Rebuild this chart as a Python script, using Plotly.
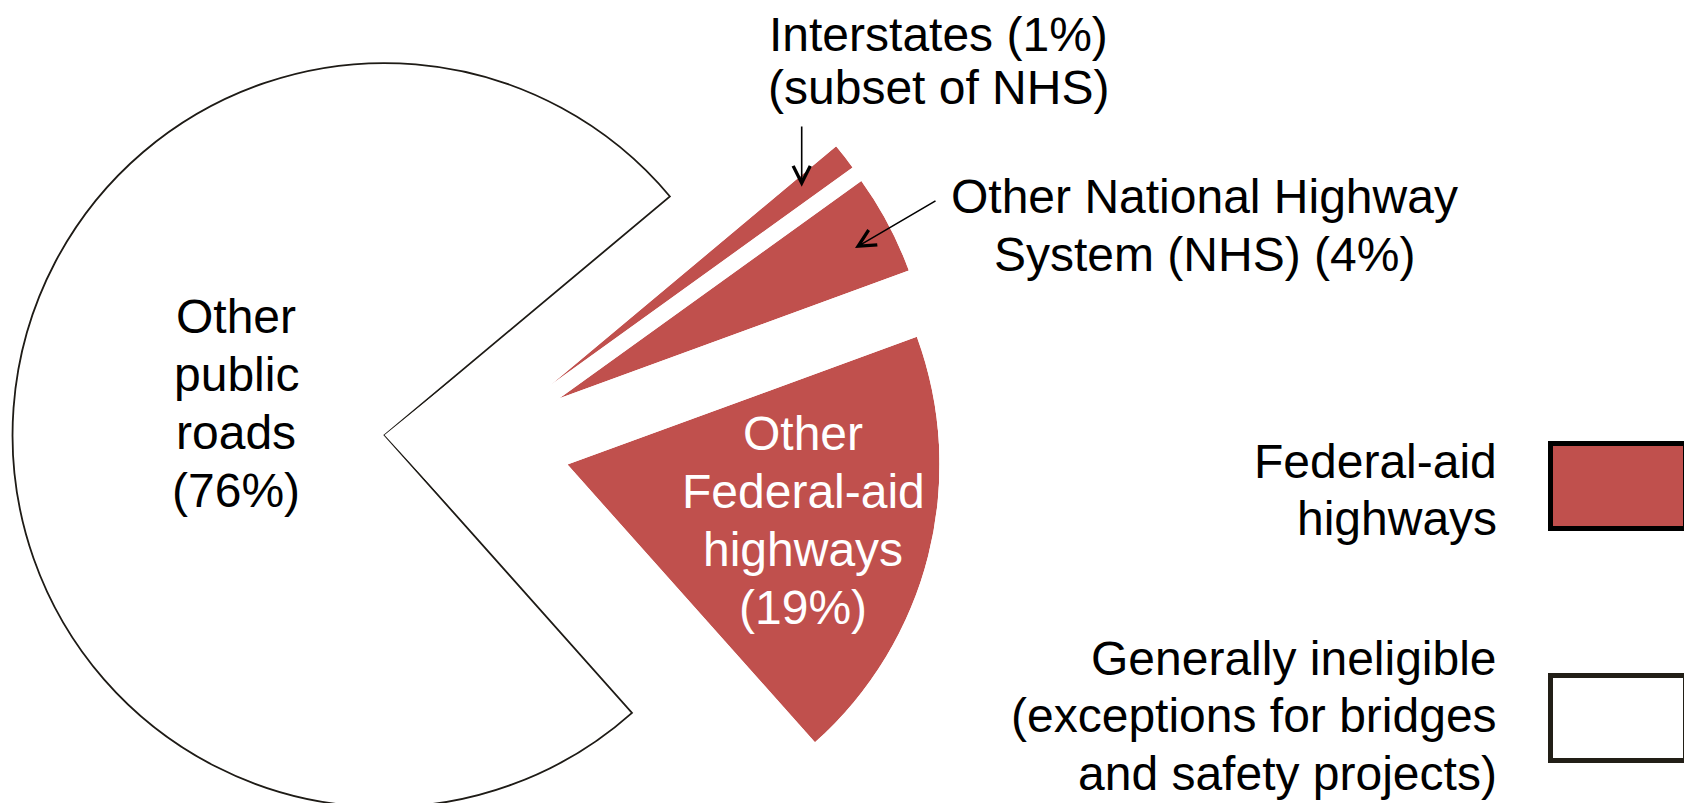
import math
import plotly.graph_objects as go

# ---------------- data ----------------
categories = ["Interstates", "Other National Highway System (NHS)",
              "Other Federal-aid highways", "Other public roads"]
shares = [1.15, 4.35, 19.0, 75.5]
pct_labels = ["1%", "4%", "19%", "76%"]   # printed labels
groups = ["Federal-aid highways", "Federal-aid highways",
          "Federal-aid highways", "Generally ineligible"]

legend_groups = ["Federal-aid highways", "Generally ineligible"]
legend_lines = [["Federal-aid", "highways"],
                ["Generally ineligible", "(exceptions for bridges", "and safety projects)"]]

label_lines = [
    ["Interstates (" + pct_labels[0] + ")", "(subset of NHS)"],
    ["Other National Highway", "System (NHS) (" + pct_labels[1] + ")"],
    ["Other", "Federal-aid", "highways", "(" + pct_labels[2] + ")"],
    ["Other", "public", "roads", "(" + pct_labels[3] + ")"],
]

# ---------------- style / layout ----------------
W, H = 1692, 803
OFF = 8                   # page body margin: figure is drawn 8px right/down
RED = "#C0504D"
group_fill = {"Federal-aid highways": RED, "Generally ineligible": "#FFFFFF"}
group_edge = {"Federal-aid highways": "#000000", "Generally ineligible": "#221F17"}
slice_line = ["rgba(0,0,0,0)", "rgba(0,0,0,0)", "rgba(0,0,0,0)", "#1E1B16"]
slice_line_w = [0, 0, 0, 1.8]
label_color = ["#000000", "#000000", "#FFFFFF", "#000000"]
FONT = "Liberation Sans, Arial, Helvetica, sans-serif"
FS = 48

# positions below are in screen pixels of the target picture
R = 372.0                 # pie radius (px)
CX, CY = 477.3, 441.9     # unexploded pie centre (px)
PULL = 0.25               # explosion as fraction of radius
START = 39.9              # angle (deg, math convention) where first slice starts, clockwise

# label placement: (x, first baseline, line spacing, anchor)
label_pos = [(938.3, 51.6, 52.4, "center"),
             (1204.0, 213.5, 58.0, "center"),
             (803.0, 450.0, 58.0, "center"),
             (236.5, 333.3, 58.0, "center")]
legend_pos = [(1497.0, 478.5, 57.0), (1497.0, 675.0, 57.6)]
legend_boxes = [(1550.5, 443.5, 1685.5, 528.5), (1550.5, 675.5, 1685.5, 760.5)]
arrows = [((801.7, 186.7), (801.7, 125.0)),   # tip, tail  (Interstates)
          ((855.0, 248.0), (937.0, 200.0))]   # (Other NHS)


def fx(x):
    return (x - OFF) / W


def fy(y):
    return 1 - (y - OFF) / H


def sector_bbox(s0, s1):
    """port of plotly.js computeSectorBBox"""
    arc = s1 - s0
    a0 = s0 % 360
    a1 = a0 + arc
    ax0, ay0 = math.cos(math.radians(a0)), math.sin(math.radians(a0))
    ax1, ay1 = math.cos(math.radians(a1)), math.sin(math.radians(a1))
    if (a0 <= 90 and a1 >= 90) or (a0 > 90 and a1 >= 450):
        y1 = 1
    elif ay0 <= 0 and ay1 <= 0:
        y1 = 0
    else:
        y1 = max(ay0, ay1)
    if (a0 <= 180 and a1 >= 180) or (a0 > 180 and a1 >= 540):
        x0 = -1
    elif ax0 >= 0 and ax1 >= 0:
        x0 = 0
    else:
        x0 = min(ax0, ax1)
    if (a0 <= 270 and a1 >= 270) or (a0 > 270 and a1 >= 630):
        y0 = -1
    elif ay0 >= 0 and ay1 >= 0:
        y0 = 0
    else:
        y0 = min(ay0, ay1)
    if a1 >= 360:
        x1 = 1
    elif ax0 <= 0 and ax1 <= 0:
        x1 = 0
    else:
        x1 = max(ax0, ax1)
    return x0, y0, x1, y1, a0, a1


def clamp(t):
    return min(1.0, max(0.0, t))


fig = go.Figure()
layout_polars = {}
total = sum(shares)
cum = 0.0
for i, v in enumerate(shares):
    span = v / total * 360.0
    a_hi = START - cum / total * 360.0
    a_lo = a_hi - span
    cum += v
    mid = (a_hi + a_lo) / 2.0
    # apex in figure pixel coordinates
    ax = CX + PULL * R * math.cos(math.radians(mid)) - OFF
    ay = CY - PULL * R * math.sin(math.radians(mid)) - OFF
    outlined = slice_line_w[i] > 0
    pad = 0.8 if outlined else 0.0
    rng = 1.006 if outlined else 1.0
    bx0, by0, bx1, by1, s0, s1 = sector_bbox(a_lo - pad, a_hi + pad)
    rpx = R * rng
    if by0 < 0:
        rpx = min(rpx, (H - ay) / (-by0))
    if by1 > 0:
        rpx = min(rpx, ay / by1)
    if bx0 < 0:
        rpx = min(rpx, ax / (-bx0))
    if bx1 > 0:
        rpx = min(rpx, (W - ax) / bx1)
    dx0 = (ax + rpx * bx0) / W
    dx1 = (ax + rpx * bx1) / W
    dy0 = 1 - (ay - rpx * by0) / H
    dy1 = 1 - (ay - rpx * by1) / H
    name = "polar" if i == 0 else "polar%d" % (i + 1)
    layout_polars[name] = dict(
        domain=dict(x=[clamp(dx0), clamp(dx1)], y=[clamp(dy0), clamp(dy1)]),
        sector=[s0, s1],
        bgcolor="rgba(0,0,0,0)",
        radialaxis=dict(visible=False, range=[0, rng]),
        angularaxis=dict(visible=False),
    )
    fig.add_trace(go.Barpolar(
        r=[1], theta=[mid], width=[span], base=0,
        name=categories[i],
        marker=dict(color=group_fill[groups[i]],
                    line=dict(color=slice_line[i], width=slice_line_w[i])),
        subplot=name, showlegend=False,
        hovertemplate=categories[i] + ": " + pct_labels[i] + "<extra></extra>",
    ))

annotations = []


def add_line(text, x, baseline, anchor, color):
    yc = baseline - 0.3465 * FS
    annotations.append(dict(
        text=text, x=fx(x), y=fy(yc), xref="paper", yref="paper",
        xanchor=anchor, yanchor="middle", showarrow=False,
        borderpad=0, borderwidth=0,
        font=dict(family=FONT, size=FS, color=color)))


for i, lines in enumerate(label_lines):
    x, b0, sp, anc = label_pos[i]
    for k, t in enumerate(lines):
        add_line(t, x, b0 + k * sp, anc, label_color[i])

for j, lines in enumerate(legend_lines):
    x, b0, sp = legend_pos[j]
    for k, t in enumerate(lines):
        add_line(t, x, b0 + k * sp, "right", "#000000")

for (tip, tail) in arrows:
    annotations.append(dict(
        text="", x=fx(tip[0]), y=fy(tip[1]), xref="paper", yref="paper",
        ax=tail[0] - tip[0], ay=tail[1] - tip[1], showarrow=True,
        arrowhead=5, arrowsize=2.1, arrowwidth=1.6, arrowcolor="#000000",
        standoff=0))

shapes = []
for j, g in enumerate(legend_groups):
    x0, y0, x1, y1 = legend_boxes[j]
    shapes.append(dict(type="rect", xref="paper", yref="paper",
                       x0=fx(x0), x1=fx(x1), y0=fy(y1), y1=fy(y0),
                       fillcolor=group_fill[g],
                       line=dict(color=group_edge[g], width=5)))

fig.update_layout(
    width=W, height=H,
    margin=dict(l=0, r=0, t=0, b=0),
    paper_bgcolor="#FFFFFF", plot_bgcolor="#FFFFFF",
    showlegend=False,
    annotations=annotations, shapes=shapes,
    **layout_polars,
)

fig.write_html("out.html")
